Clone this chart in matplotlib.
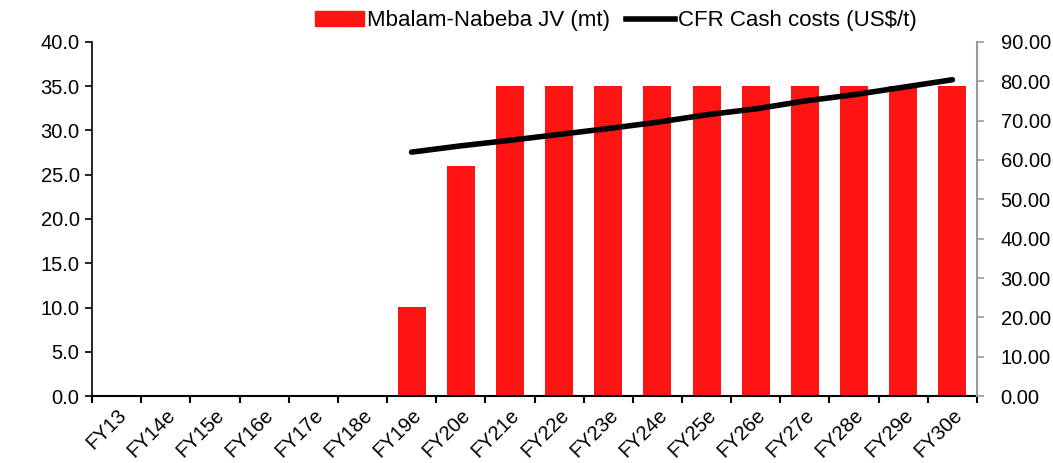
import numpy as np
import matplotlib.pyplot as plt
from matplotlib.patches import Patch
from matplotlib.lines import Line2D

plt.rcParams['font.family'] = ['Liberation Sans', 'DejaVu Sans']

years = ['FY13', 'FY14e', 'FY15e', 'FY16e', 'FY17e', 'FY18e', 'FY19e', 'FY20e', 'FY21e',
         'FY22e', 'FY23e', 'FY24e', 'FY25e', 'FY26e', 'FY27e', 'FY28e', 'FY29e', 'FY30e']
production = [0, 0, 0, 0, 0, 0, 10.1, 26.0, 35.0, 35.0, 35.0, 35.0, 35.0, 35.0, 35.0, 35.0, 35.0, 35.0]
cash_costs = [np.nan] * 6 + [62.0, 63.6, 65.0, 66.5, 68.0, 69.6, 71.5, 73.0, 75.0, 76.6, 78.5, 80.4]

fig = plt.figure(figsize=(10.53, 4.63), dpi=100)
ax = fig.add_axes([0.0874, 0.1447, 0.8404, 0.7646])
ax2 = ax.twinx()

x = np.arange(len(years))
ax.bar(x, production, width=0.57, color='#ff1414', zorder=2)
ax2.plot(x, cash_costs, color='black', lw=4, solid_capstyle='round', zorder=3)

ax.set_xlim(-0.5, len(years) - 0.5)
ax.set_ylim(0, 40)
ax2.set_ylim(0, 90)
ax.set_yticks(np.arange(0, 41, 5))
ax.set_yticklabels(['%.1f' % v for v in np.arange(0, 41, 5)])
ax2.set_yticks(np.arange(0, 91, 10))
ax2.set_yticklabels(['%.2f' % v for v in np.arange(0, 91, 10)])

ax.set_xticks(x)
ax.set_xticklabels(years, rotation=45, ha='right', rotation_mode='anchor')
ax.set_xticks(np.arange(-0.5, len(years)), minor=True)
ax.tick_params(axis='x', which='major', length=0, pad=7, labelsize=14.5)
ax.tick_params(axis='x', which='minor', length=5, width=1.5, direction='out')
ax.tick_params(axis='y', length=5, width=1.2, labelsize=14.5, pad=4)
ax2.tick_params(axis='y', length=5, width=1.2, color='#999999', labelsize=14.5, pad=12)

for s in ['top']:
    ax.spines[s].set_visible(False)
    ax2.spines[s].set_visible(False)
ax.spines['right'].set_visible(False)
ax2.spines['left'].set_visible(False)
ax2.spines['bottom'].set_visible(False)
ax2.spines['right'].set_color('#999999')
ax2.spines['right'].set_linewidth(1.5)
ax.spines['left'].set_linewidth(1.2)
ax.spines['bottom'].set_linewidth(1.5)

handles = [Patch(color='#ff1414', label='Mbalam-Nabeba JV (mt)'),
           Line2D([0], [0], color='black', lw=4, label='CFR Cash costs (US$/t)')]
fig.legend(handles=handles, loc='center', bbox_to_anchor=(0.585, 0.955), ncol=2,
           frameon=False, fontsize=16, handlelength=2.2, handletextpad=0.15,
           columnspacing=0.7, borderpad=0)

fig.savefig('out.png', dpi=100)
